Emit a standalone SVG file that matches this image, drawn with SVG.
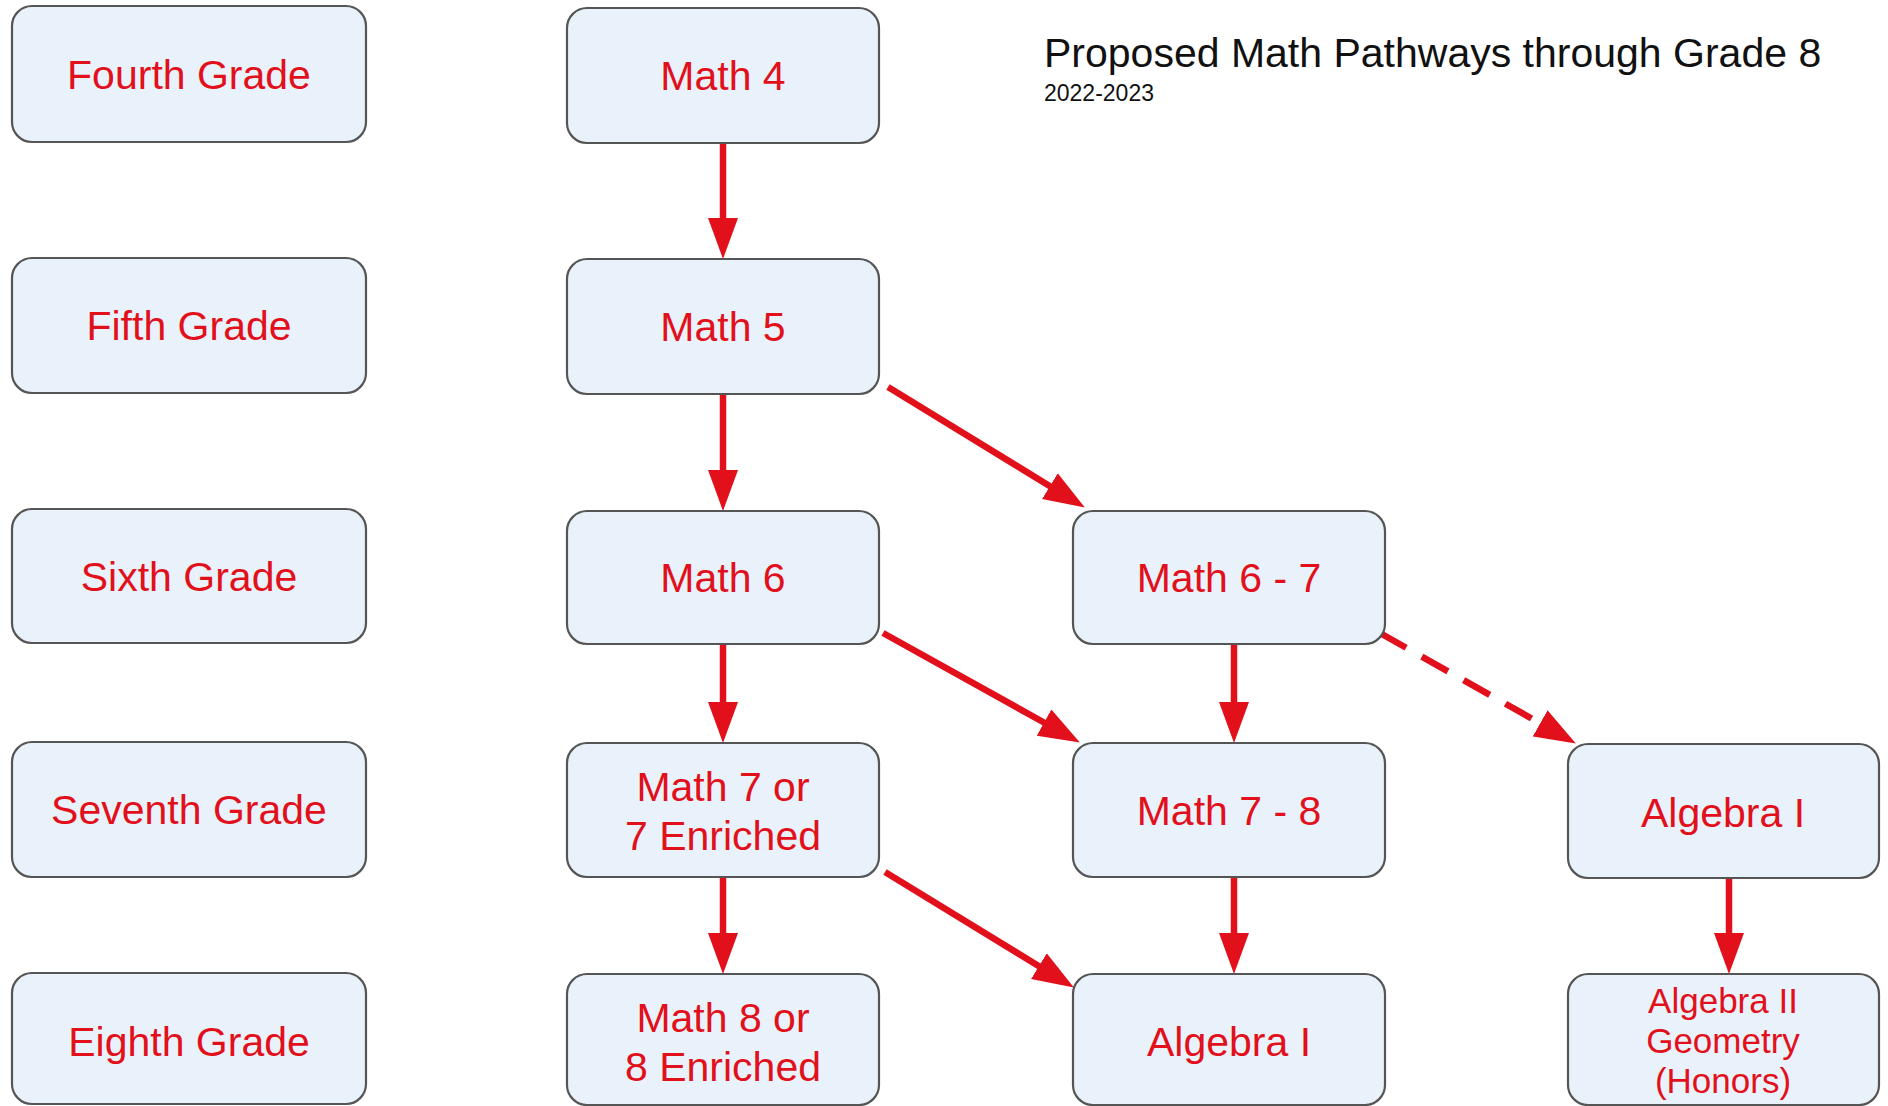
<svg xmlns="http://www.w3.org/2000/svg" width="1888" height="1106" viewBox="0 0 1888 1106">
<style>
.box{fill:#e9f2fb;stroke:#555;stroke-width:2.2}
.lbl{font-family:"Liberation Sans",Arial,sans-serif;font-size:41px;fill:#e2101b;text-anchor:middle}
.sm{font-size:35px}
.ttl{font-family:"Liberation Sans",Arial,sans-serif;fill:#111}
.arr{stroke:#e2101b;stroke-width:6.5;fill:none;marker-end:url(#ah)}
.dash{stroke-dasharray:30 18}
</style>
<defs>
<marker id="ah" markerUnits="userSpaceOnUse" markerWidth="42" markerHeight="32" refX="2" refY="15" orient="auto" viewBox="0 0 42 30">
<path d="M0,0 L41,15 L0,30 z" fill="#e2101b"/>
</marker>
</defs>
<rect width="1888" height="1106" fill="#fff"/>
<g id="title">
<text class="ttl" x="1044" y="67" font-size="41">Proposed Math Pathways through Grade 8</text>
<text class="ttl" x="1044" y="101" font-size="23">2022-2023</text>
</g>
<g id="connectors">
<path class="arr" d="M723,143 L723,220"/>
<path class="arr" d="M723,394 L723,472"/>
<path class="arr" d="M888,387 L1051.6,487.2"/>
<path class="arr" d="M723,644 L723,704"/>
<path class="arr" d="M883,633 L1045.8,723.5"/>
<path class="arr" d="M1234,644 L1234,704"/>
<path class="arr dash" d="M1380,633 L1541.9,724.3"/>
<path class="arr" d="M723,877 L723,935"/>
<path class="arr" d="M885,872 L1040.6,967.2"/>
<path class="arr" d="M1234,877 L1234,935"/>
<path class="arr" d="M1729,878 L1729,935"/>
</g>
<g id="fourth-grade"><rect class="box" x="12" y="6" width="354" height="136" rx="20"/><text class="lbl" x="189" y="89">Fourth Grade</text></g>
<g id="fifth-grade"><rect class="box" x="12" y="258" width="354" height="135" rx="20"/><text class="lbl" x="189" y="340">Fifth Grade</text></g>
<g id="sixth-grade"><rect class="box" x="12" y="509" width="354" height="134" rx="20"/><text class="lbl" x="189" y="591">Sixth Grade</text></g>
<g id="seventh-grade"><rect class="box" x="12" y="742" width="354" height="135" rx="20"/><text class="lbl" x="189" y="824">Seventh Grade</text></g>
<g id="eighth-grade"><rect class="box" x="12" y="973" width="354" height="131" rx="20"/><text class="lbl" x="189" y="1056">Eighth Grade</text></g>
<g id="math4"><rect class="box" x="567" y="8" width="312" height="135" rx="20"/><text class="lbl" x="723" y="90">Math 4</text></g>
<g id="math5"><rect class="box" x="567" y="259" width="312" height="135" rx="20"/><text class="lbl" x="723" y="341">Math 5</text></g>
<g id="math6"><rect class="box" x="567" y="511" width="312" height="133" rx="20"/><text class="lbl" x="723" y="592">Math 6</text></g>
<g id="math7"><rect class="box" x="567" y="743" width="312" height="134" rx="20"/><text class="lbl" x="723" y="801">Math 7 or</text><text class="lbl" x="723" y="850">7 Enriched</text></g>
<g id="math8"><rect class="box" x="567" y="974" width="312" height="131" rx="20"/><text class="lbl" x="723" y="1032">Math 8 or</text><text class="lbl" x="723" y="1081">8 Enriched</text></g>
<g id="math67"><rect class="box" x="1073" y="511" width="312" height="133" rx="20"/><text class="lbl" x="1229" y="592">Math 6 - 7</text></g>
<g id="math78"><rect class="box" x="1073" y="743" width="312" height="134" rx="20"/><text class="lbl" x="1229" y="825">Math 7 - 8</text></g>
<g id="algebra1-8"><rect class="box" x="1073" y="974" width="312" height="131" rx="20"/><text class="lbl" x="1229" y="1056">Algebra I</text></g>
<g id="algebra1-7"><rect class="box" x="1568" y="744" width="311" height="134" rx="20"/><text class="lbl" x="1723" y="827">Algebra I</text></g>
<g id="algebra2"><rect class="box" x="1568" y="974" width="311" height="131" rx="20"/><text class="lbl sm" x="1723" y="1013">Algebra II</text><text class="lbl sm" x="1723" y="1053">Geometry</text><text class="lbl sm" x="1723" y="1093">(Honors)</text></g>
</svg>
